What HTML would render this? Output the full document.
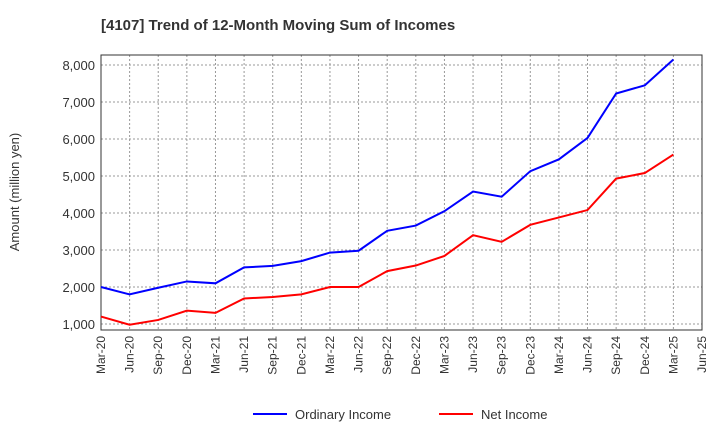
<!DOCTYPE html>
<html><head><meta charset="utf-8"><style>
body{margin:0;background:#fff;font-family:"Liberation Sans",sans-serif;}
svg text{font-family:"Liberation Sans",sans-serif;}
</style></head><body>
<svg id="chart" width="720" height="440" xmlns="http://www.w3.org/2000/svg">
<text x="101" y="30" font-size="15" font-weight="bold" fill="#333">[4107]  Trend of 12-Month Moving Sum of Incomes</text>
<g id="grid"></g><g id="axes"></g><g id="series"></g>
<text transform="translate(19,192) rotate(-90)" text-anchor="middle" font-size="13" fill="#333">Amount (million yen)</text>
<g>
<line x1="253" y1="414" x2="287" y2="414" stroke="#0000ff" stroke-width="2"/>
<text x="295" y="419" font-size="13" fill="#333">Ordinary Income</text>
<line x1="439" y1="414" x2="473" y2="414" stroke="#ff0000" stroke-width="2"/>
<text x="481" y="419" font-size="13" fill="#333">Net Income</text>
</g>
</svg>
<script>
const categories=["Mar-20","Jun-20","Sep-20","Dec-20","Mar-21","Jun-21","Sep-21","Dec-21","Mar-22","Jun-22","Sep-22","Dec-22","Mar-23","Jun-23","Sep-23","Dec-23","Mar-24","Jun-24","Sep-24","Dec-24","Mar-25","Jun-25"];
const ordinaryIncome=[2000,1800,1980,2150,2100,2530,2570,2700,2930,2980,3520,3660,4050,4580,4440,5130,5450,6030,7230,7450,8150];
const netIncome=[1200,980,1110,1360,1300,1690,1730,1800,2000,2000,2430,2580,2840,3400,3220,3680,3880,4080,4930,5080,5580];
const yTicks=[1000,2000,3000,4000,5000,6000,7000,8000];
const NS="http://www.w3.org/2000/svg";
const L=101,R=702,T=55,B=330;
const x=i=>L+i*(R-L)/(categories.length-1);
const y=v=>361-v*0.037;
function mk(tag,attrs,parent){const e=document.createElementNS(NS,tag);for(const k in attrs)e.setAttribute(k,attrs[k]);parent.appendChild(e);return e;}
const grid=document.getElementById('grid'),axes=document.getElementById('axes'),series=document.getElementById('series');
const frame=mk('rect',{x:L,y:T,width:R-L,height:B-T,fill:'none',stroke:'#333','stroke-width':1},axes);


yTicks.forEach(v=>{
 const g=mk('line',{x1:L,x2:R,y1:y(v),y2:y(v),stroke:'#999','stroke-dasharray':'2,2'},grid);
 
 
 const t=mk('text',{x:L-6,y:y(v)+5,'text-anchor':'end','font-size':13,fill:'#333'},axes);
 
 
 t.textContent=v.toLocaleString('en-US');
});
categories.forEach((c,i)=>{
 if(i>0&&i<categories.length-1){const g=mk('line',{x1:x(i),x2:x(i),y1:T,y2:B,stroke:'#999','stroke-dasharray':'2,2'},grid);
 
 }
 const t=mk('text',{transform:`translate(${x(i)+4},${B+6}) rotate(-90)`,'text-anchor':'end','font-size':12,fill:'#333'},axes);
 
 
 t.textContent=c;
});
function line(data,color,name){
 const p=mk('polyline',{points:data.map((v,i)=>x(i)+','+y(v)).join(' '),fill:'none',stroke:color,'stroke-width':2},series);
 
 
}
line(ordinaryIncome,'#0000ff','ordinary-income-line');
line(netIncome,'#ff0000','net-income-line');
</script>
</body></html>
